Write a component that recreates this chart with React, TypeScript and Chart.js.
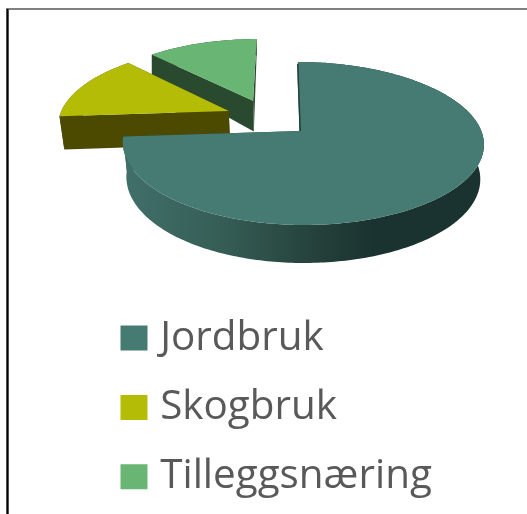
import React, { useEffect, useRef } from "react";
import { Chart, registerables } from "chart.js";

Chart.register(...registerables);

const categories = ["Jordbruk", "Skogbruk", "Tilleggsnæring"];
const shares = [73.9, 13.9, 12.2];
const topColors = ["#467b73", "#b5bc05", "#69b574"];
const wallColors = ["#234039", "#4c4900", "#2a4a2f"];
const legendFont = "Open Sans";

const PIE_RADIUS = 100;
const EXPLODE = 25;

// perspective of the tilted disc
const CX = 300.5, CY = 131, BX = 178.4, AY = 79.6, P = 0.153, Q = 0.0135, SKEW = 3;

function project(u: number, v: number): [number, number] {
  const w = 1 - P * v;
  return [CX + ((BX * u) / (1 - Q * u) + SKEW * v) / w, CY + (AY * v) / w];
}
function projectLow(u: number, v: number): [number, number] {
  const [x, y] = project(u, v);
  const depth = v >= -0.25 ? 33 + 4 * (v + 0.25) : Math.max(33 + (v + 0.25) * 14.6, 0);
  const k = v >= -0.2 ? 0.98 : v <= -1 ? 1 : 1 - (0.02 * (v + 1)) / 0.8;
  return [CX + (x - CX) * k, y + depth];
}

const pie3d = {
  id: "pie3d",
  beforeDatasetsDraw(chart: any) {
    const ctx = chart.ctx as CanvasRenderingContext2D;
    const arcs = chart.getDatasetMeta(0).data as any[];
    const m0 = (arcs[0].startAngle + arcs[0].endAngle) / 2;
    const ou = (arcs[0].options.offset / arcs[0].outerRadius) * Math.cos(m0);
    const ov = (arcs[0].options.offset / arcs[0].outerRadius) * Math.sin(m0);

    const poly = (pts: [number, number][], fill: any) => {
      ctx.beginPath();
      pts.forEach((p, i) => (i ? ctx.lineTo(p[0], p[1]) : ctx.moveTo(p[0], p[1])));
      ctx.closePath();
      ctx.fillStyle = fill;
      ctx.fill();
    };

    const sideGradient = ctx.createLinearGradient(123, 0, 483, 0);
    sideGradient.addColorStop(0, "#41706a");
    sideGradient.addColorStop(0.29, "#345c54");
    sideGradient.addColorStop(0.55, "#243f3a");
    sideGradient.addColorStop(0.7, "#1a3230");
    sideGradient.addColorStop(1, "#1a3230");

    [2, 1, 0].forEach((i) => {
      const a = arcs[i];
      const off = a.options.offset / a.outerRadius;
      const mid = (a.startAngle + a.endAngle) / 2;
      const cu = off * Math.cos(mid) - ou;
      const cv = off * Math.sin(mid) - ov;
      const n = Math.ceil(((a.endAngle - a.startAngle) * 180) / Math.PI);
      const rim: [number, number][] = [];
      for (let k = 0; k <= n; k++) {
        const t = a.startAngle + ((a.endAngle - a.startAngle) * k) / n;
        rim.push([cu + Math.cos(t), cv + Math.sin(t)]);
      }
      const wall = i === 0 ? sideGradient : wallColors[i];
      const first = rim[0];
      const last = rim[rim.length - 1];
      poly([project(...first), project(cu, cv), projectLow(cu, cv), projectLow(...first)], wallColors[i]);
      poly([project(...last), project(cu, cv), projectLow(cu, cv), projectLow(...last)], wallColors[i]);
      poly([...rim.map((p) => project(p[0], p[1])), ...rim.slice().reverse().map((p) => projectLow(p[0], p[1]))], wall);
      poly([project(cu, cv), ...rim.map((p) => project(p[0], p[1]))], a.options.backgroundColor);
      if (i === 0) {
        const [x0, y0] = project(...first);
        const [x1, y1] = project(cu, cv);
        ctx.beginPath();
        ctx.moveTo(x0 - 0.2, y0 + 2);
        ctx.lineTo(x1 - 0.2, y1);
        ctx.strokeStyle = wallColors[0];
        ctx.lineWidth = 1.5;
        ctx.stroke();
      }
    });
    return false;
  },
};

export default function App() {
  const ref = useRef<HTMLCanvasElement>(null);
  useEffect(() => {
    const chart = new Chart(ref.current as HTMLCanvasElement, {
      type: "pie",
      data: {
        labels: categories,
        datasets: [{ data: shares, backgroundColor: topColors, borderWidth: 0, offset: EXPLODE, radius: PIE_RADIUS } as any],
      },
      options: {
        responsive: false,
        animation: false,
        layout: { padding: { left: 99, bottom: -12 } },
        plugins: {
          tooltip: { enabled: false },
          legend: {
            position: "left",
            align: "end",
            maxWidth: 430,
            labels: {
              boxWidth: 12,
              boxHeight: 10,
              padding: 29,
              color: "#595959",
              font: { family: legendFont, size: 40.4 },
              generateLabels: () =>
                categories.map((text, i) => ({
                  text,
                  fillStyle: topColors[i],
                  strokeStyle: topColors[i],
                  lineWidth: 15,
                  lineJoin: "miter",
                  hidden: false,
                  index: i,
                  fontColor: "#595959",
                })),
            },
          },
        },
      } as any,
      plugins: [pie3d],
    });
    return () => chart.destroy();
  }, []);
  return (
    <div style={{ position: "fixed", left: 0, top: 0, width: 527, height: 514, overflow: "hidden", background: "#fff" }}>
      <canvas ref={ref} width={527} height={514} style={{ position: "absolute", left: 0, top: 0 }} />
      <div style={{ position: "absolute", left: 6, top: 8, right: 0, height: 2, background: "#808080" }} />
      <div style={{ position: "absolute", left: 6, top: 9, bottom: 0, width: 3, background: "linear-gradient(90deg,#888,#000 40%,#000 60%,#888)" }} />
    </div>
  );
}
